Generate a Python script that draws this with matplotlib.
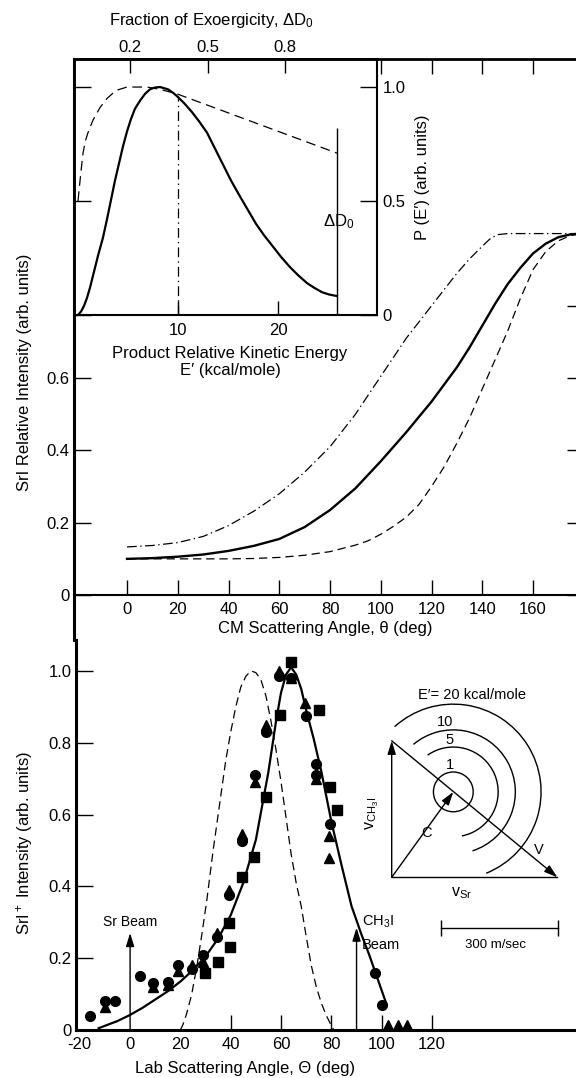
import matplotlib
matplotlib.use('Agg')
import matplotlib.pyplot as plt
from matplotlib.patches import Arc

plt.rcParams['font.family'] = ['Liberation Sans', 'DejaVu Sans']
plt.rcParams['font.size'] = 12
plt.rcParams['mathtext.fontset'] = 'custom'
plt.rcParams['mathtext.rm'] = 'Liberation Sans'
plt.rcParams['mathtext.it'] = 'Liberation Sans:italic'
plt.rcParams['mathtext.default'] = 'regular'
plt.rcParams['lines.scale_dashes'] = False

W, H = 576, 1078

# ---- inset: product relative kinetic energy distribution P(E')
DELTA_D0 = 25.9                     # kcal/mole
E_MARK, P_MARK = 10.0, 0.96         # dash-dot marker line
D0_LINE_TOP = 0.82
pe_solid_e = [0, 0.3, 0.6, 0.9, 1.2, 1.6, 2.0, 2.5, 2.9, 3.3, 3.7, 4.1, 4.5, 4.9, 5.3,
              5.7, 6.2, 6.7, 7.2, 7.7, 8.2, 8.6, 9.0, 9.5, 9.9, 10.6, 11.4, 12.1, 12.9,
              13.7, 14.5, 15.3, 16.2, 17.0, 17.8, 18.6, 19.5, 20.3, 21.2, 22.0, 22.9,
              23.6, 24.4, 25.1, 25.9]
pe_solid_p = [0, 0.015, 0.04, 0.075, 0.12, 0.19, 0.26, 0.34, 0.42, 0.505, 0.59, 0.665,
              0.74, 0.805, 0.86, 0.905, 0.94, 0.97, 0.99, 0.998, 1.0, 0.995, 0.99, 0.975,
              0.96, 0.93, 0.89, 0.85, 0.80, 0.73, 0.66, 0.59, 0.52, 0.46, 0.40, 0.35,
              0.30, 0.255, 0.21, 0.175, 0.14, 0.12, 0.10, 0.09, 0.083]
pe_dash_e = [0, 0.25, 0.5, 0.75, 1.0, 1.5, 2.2, 2.9, 3.8, 4.9, 5.9, 6.9, 8.2, 9.9, 25.9]
pe_dash_p = [0.50, 0.61, 0.71, 0.765, 0.80, 0.855, 0.91, 0.95, 0.985, 1.0, 1.0, 1.0,
             0.99, 0.97, 0.71]
frac_ticks = [0.2, 0.5, 0.8]

# ---- CM angular distributions
cm_solid_t = [0, 10, 20, 30, 40, 50, 60, 70, 80, 90, 100, 110, 120, 130, 135, 140,
              145, 150, 155, 160, 165, 170, 175, 180]
cm_solid_y = [0.100, 0.102, 0.106, 0.112, 0.122, 0.136, 0.155, 0.188, 0.235, 0.295,
              0.37, 0.45, 0.535, 0.63, 0.685, 0.745, 0.805, 0.86, 0.905, 0.945, 0.972,
              0.99, 0.998, 1.0]
cm_dd_t = [0, 10, 20, 30, 40, 50, 60, 70, 80, 90, 100, 110, 120, 125, 130, 135, 140,
           143, 146, 150, 180]
cm_dd_y = [0.133, 0.137, 0.145, 0.162, 0.192, 0.232, 0.28, 0.34, 0.41, 0.50, 0.605,
           0.71, 0.80, 0.845, 0.89, 0.93, 0.965, 0.985, 0.997, 1.0, 1.0]
cm_dash_t = [0, 20, 40, 50, 60, 70, 80, 90, 95, 100, 105, 110, 115, 120, 125, 130, 135,
             140, 145, 150, 155, 160, 165, 170, 175, 180]
cm_dash_y = [0.10, 0.10, 0.10, 0.101, 0.104, 0.11, 0.12, 0.138, 0.15, 0.168, 0.19,
             0.215, 0.25, 0.30, 0.355, 0.42, 0.49, 0.57, 0.65, 0.73, 0.82, 0.90, 0.95,
             0.98, 0.995, 1.0]

# ---- lab angular distribution data
circ_t = [-16, -10, -6, 4, 9, 15, 19, 24.5, 29, 34.5, 39.5, 44.5, 49.5, 54, 59, 64,
          70, 74, 74, 79.5, 97.5, 100]
circ_i = [0.04, 0.08, 0.08, 0.15, 0.13, 0.135, 0.18, 0.17, 0.21, 0.26, 0.375, 0.525,
          0.71, 0.83, 0.985, 0.98, 0.875, 0.74, 0.71, 0.575, 0.16, 0.07]
tri_t = [-10, 9, 15, 19, 24.5, 29, 34.5, 39.5, 44.5, 49.5, 54, 59, 64, 69.5, 74,
         79, 79, 102.5, 106.5, 110]
tri_i = [0.065, 0.12, 0.125, 0.165, 0.18, 0.19, 0.27, 0.39, 0.545, 0.69, 0.85, 1.0,
         0.98, 0.91, 0.70, 0.54, 0.48, 0.015, 0.015, 0.015]
sq_t = [29.8, 35, 39.7, 39.5, 44.5, 49.4, 54, 59.4, 64, 75, 79.5, 82.2]
sq_i = [0.16, 0.19, 0.232, 0.297, 0.427, 0.483, 0.65, 0.877, 1.025, 0.89, 0.678, 0.613]

lab_fit_t = [-12.5, -5, 0, 5, 10, 15, 20, 25, 30, 35, 40, 45, 50, 55, 58, 60, 62, 64,
             66, 68, 70, 73, 76, 80, 84, 88, 92, 95, 97.5, 100, 102]
lab_fit_i = [0.005, 0.025, 0.042, 0.062, 0.085, 0.108, 0.135, 0.167, 0.205, 0.255,
             0.32, 0.41, 0.53, 0.72, 0.86, 0.94, 0.99, 1.01, 0.99, 0.95, 0.89, 0.81,
             0.72, 0.58, 0.46, 0.345, 0.265, 0.21, 0.16, 0.11, 0.07]
lab_dash_t = [20, 21, 22.5, 24.5, 26.5, 28.5, 30.5, 33, 35.8, 38, 40, 42, 44, 46, 48,
              50, 52, 54, 56, 58, 60, 62, 64, 66, 68, 70, 72, 74, 76, 78, 80, 81]
lab_dash_i = [0.0, 0.015, 0.046, 0.10, 0.176, 0.265, 0.362, 0.50, 0.64, 0.75, 0.83,
              0.90, 0.955, 0.985, 1.0, 0.995, 0.975, 0.93, 0.86, 0.78, 0.69, 0.59,
              0.49, 0.41, 0.345, 0.26, 0.18, 0.12, 0.075, 0.04, 0.012, 0.0]
SR_BEAM, SR_TOP = 0, 0.27
CH3I_BEAM, CH3I_TOP = 90, 0.285

# ---- Newton diagram (m/sec)
V_SR = 425
V_CH3I = 350
C_CM = (158, 219)
e_levels = ['1', '5', '10', '20']
radii = [51, 115, 159, 225]
arc_spans = [(0, 360), (-79, 125), (-72, 130), (-68, 132)]
SCALE = 300


def box(x0, y0, x1, y1):
    return [x0 / W, 1 - y1 / H, (x1 - x0) / W, (y1 - y0) / H]


fig = plt.figure(figsize=(W / 100, H / 100), dpi=100)

# ================= upper main axes =================
ax1 = fig.add_axes(box(74, 59, 584, 640))
ax1.plot(cm_solid_t, cm_solid_y, 'k-', lw=1.7)
ax1.plot(cm_dash_t, cm_dash_y, 'k', lw=0.9, dashes=(6, 3.5))
ax1.plot(cm_dd_t, cm_dd_y, 'k', lw=0.9, dashes=(7, 2.5, 1, 2.5))
ax1.set_xlim(-20.9, 180.1)
ax1.set_ylim(-0.1245, 1.483)
ax1.spines['bottom'].set_position(('data', 0))
ax1.spines['left'].set_linewidth(2.2)
ax1.spines['top'].set_linewidth(2.0)
ax1.spines['bottom'].set_linewidth(1.5)
ax1.spines['right'].set_linewidth(1.5)
ax1.set_xticks(range(0, 161, 20))
ax1.set_yticks([0, 0.2, 0.4, 0.6, 0.8])
ax1.set_yticklabels(['0', '0.2', '0.4', '0.6', ''])
ax1.tick_params(direction='in', top=True, right=True, width=1, length=12, pad=3)
ax1.tick_params(axis='x', length=11, pad=5)
fig.text(325 / W, 1 - 628 / H, 'CM Scattering Angle, θ (deg)', ha='center', va='center')
fig.text(25 / W, 1 - 372 / H, 'SrI Relative Intensity (arb. units)', rotation=90,
         ha='center', va='center')

# ================= inset =================
axi = fig.add_axes(box(74, 59, 377, 315), zorder=3)
axi.set_facecolor('white')
axi.plot(pe_solid_e, pe_solid_p, 'k-', lw=1.6)
axi.plot(pe_dash_e, pe_dash_p, 'k', lw=0.9, dashes=(7, 4))
axi.vlines(E_MARK, 0, P_MARK, color='k', lw=0.9, linestyles=[(0, (7, 3, 1, 3))])
axi.vlines(DELTA_D0, 0, D0_LINE_TOP, color='k', lw=1.0)
axi.text(DELTA_D0 + 0.2, 0.41, r'ΔD$_0$', ha='center', va='center')
axi.set_xlim(-0.4, 29.9)
axi.set_ylim(0, 1.123)
axi.set_xticks([10, 20])
axi.set_yticks([0, 0.5, 1.0])
axi.set_yticklabels(['0', '0.5', '1.0'])
axi.yaxis.tick_right()
axi.tick_params(axis='y', left=True, right=True, direction='in', length=12, width=1, pad=4)
axi.tick_params(axis='x', direction='in', length=10, width=1, pad=6)
for s in ['left', 'top']:
    axi.spines[s].set_linewidth(2.1)
for s in ['right', 'bottom']:
    axi.spines[s].set_linewidth(1.5)
sec = axi.secondary_xaxis('top', functions=(lambda e: e / DELTA_D0, lambda f: f * DELTA_D0))
sec.set_xticks(frac_ticks)
sec.set_xticklabels(['0.2', '0.5', '0.8'])
sec.tick_params(direction='in', length=10, width=1, pad=3)
fig.text(212 / W, 1 - 20 / H, r'Fraction of Exoergicity, ΔD$_0$', ha='center', va='center')
fig.text(230 / W, 1 - 362 / H, 'Product Relative Kinetic Energy\nE′ (kcal/mole)',
         ha='center', va='center', linespacing=1.15)
fig.text(422 / W, 1 - 177 / H, 'P (E′) (arb. units)', rotation=90, ha='center', va='center')

# ================= lower axes =================
ax2 = fig.add_axes(box(76, 640, 583, 1030))
ax2.plot(lab_fit_t, lab_fit_i, 'k-', lw=1.6)
ax2.plot(lab_dash_t, lab_dash_i, 'k', lw=0.9, dashes=(6, 3.5))
ax2.plot(circ_t, circ_i, 'o', color='k', ms=7, clip_on=False)
ax2.plot(tri_t, tri_i, '^', color='k', ms=7, clip_on=False)
ax2.plot(sq_t, sq_i, 's', color='k', ms=6.5, clip_on=False)
ax2.set_xlim(-21.5, 180)
ax2.set_ylim(0, 1.086)
ax2.spines['top'].set_visible(False)
ax2.spines['right'].set_visible(False)
ax2.spines['left'].set_linewidth(2.2)
ax2.spines['bottom'].set_linewidth(2.2)
ax2.set_xticks(range(-20, 121, 20))
ax2.set_xticklabels(['-20', '0', '20', '40', '60', '80', '100', '120'])
ax2.set_yticks([0, 0.2, 0.4, 0.6, 0.8, 1.0])
ax2.set_yticklabels(['0', '0.2', '0.4', '0.6', '0.8', '1.0'])
ax2.tick_params(direction='in', width=1, length=12, pad=3)
ax2.tick_params(axis='x', length=11, pad=5)
for t in ax2.xaxis.get_major_ticks()[:3]:
    t.tick1line.set_visible(False)

arrow = dict(arrowstyle='-|>,head_length=0.8,head_width=0.25', mutation_scale=10,
             lw=1, color='k', shrinkA=0, shrinkB=0)
ax2.annotate('', xy=(SR_BEAM, SR_TOP), xytext=(SR_BEAM, 0), arrowprops=arrow)
ax2.annotate('', xy=(CH3I_BEAM, CH3I_TOP), xytext=(CH3I_BEAM, 0), arrowprops=arrow)
ax2.text(SR_BEAM, 0.30, 'Sr Beam', ha='center', va='center', fontsize=10)
ax2.text(CH3I_BEAM + 2, 0.30, r'CH$_3$I', ha='left', va='center', fontsize=10.5)
ax2.text(CH3I_BEAM + 2, 0.237, 'Beam', ha='left', va='center', fontsize=10.5)
fig.text(245 / W, 1 - 1068 / H, 'Lab Scattering Angle, Θ (deg)', ha='center', va='center')
fig.text(25 / W, 1 - 843 / H, r'SrI$^+$ Intensity (arb. units)', rotation=90,
         ha='center', va='center')

# ================= Newton diagram =================
K = 300 / 117.0   # m/sec per pixel
ax3 = fig.add_axes(box(360, 650, 576, 1000), zorder=4)
ax3.axis('off')
ax3.set_xlim((360 - 391.7) * K, (576 - 391.7) * K)
ax3.set_ylim((877.3 - 1000) * K, (877.3 - 650) * K)
ax3.annotate('', xy=(0, V_CH3I), xytext=(0, 0), arrowprops=arrow)
ax3.plot([0, V_SR], [0, 0], 'k-', lw=1)
ax3.annotate('', xy=(V_SR, 0), xytext=(0, V_CH3I), arrowprops=arrow)
ax3.annotate('', xy=C_CM, xytext=(0, 0), arrowprops=arrow)
for r, (t1, t2) in zip(radii, arc_spans):
    ax3.add_patch(Arc(C_CM, 2 * r, 2 * r, theta1=t1, theta2=t2, color='k', lw=1))
ax3.text(205, 467, 'E′= 20 kcal/mole', ha='center', va='center', fontsize=10.5)
ax3.text(137, 399, e_levels[2], ha='center', va='center', fontsize=10.5)
ax3.text(148, 352, e_levels[1], ha='center', va='center', fontsize=10.5)
ax3.text(150, 288, e_levels[0], ha='center', va='center', fontsize=10.5)
ax3.text(90, 114, 'C', ha='center', va='center', fontsize=10.5)
ax3.text(376, 70, 'V', ha='center', va='center', fontsize=10.5)
ax3.text(-51, 165, r'v$_{CH_3I}$', rotation=90, ha='center', va='center', fontsize=11.5)
ax3.text(180, -40, r'v$_{Sr}$', ha='center', va='center', fontsize=11.5)
ax3.plot([126, 126 + SCALE], [-130, -130], 'k-', lw=1, marker='|', ms=12, mew=1)
ax3.text(267, -174, '300 m/sec', ha='center', va='center', fontsize=9.5)

fig.savefig('out.png', dpi=100, facecolor='white')
